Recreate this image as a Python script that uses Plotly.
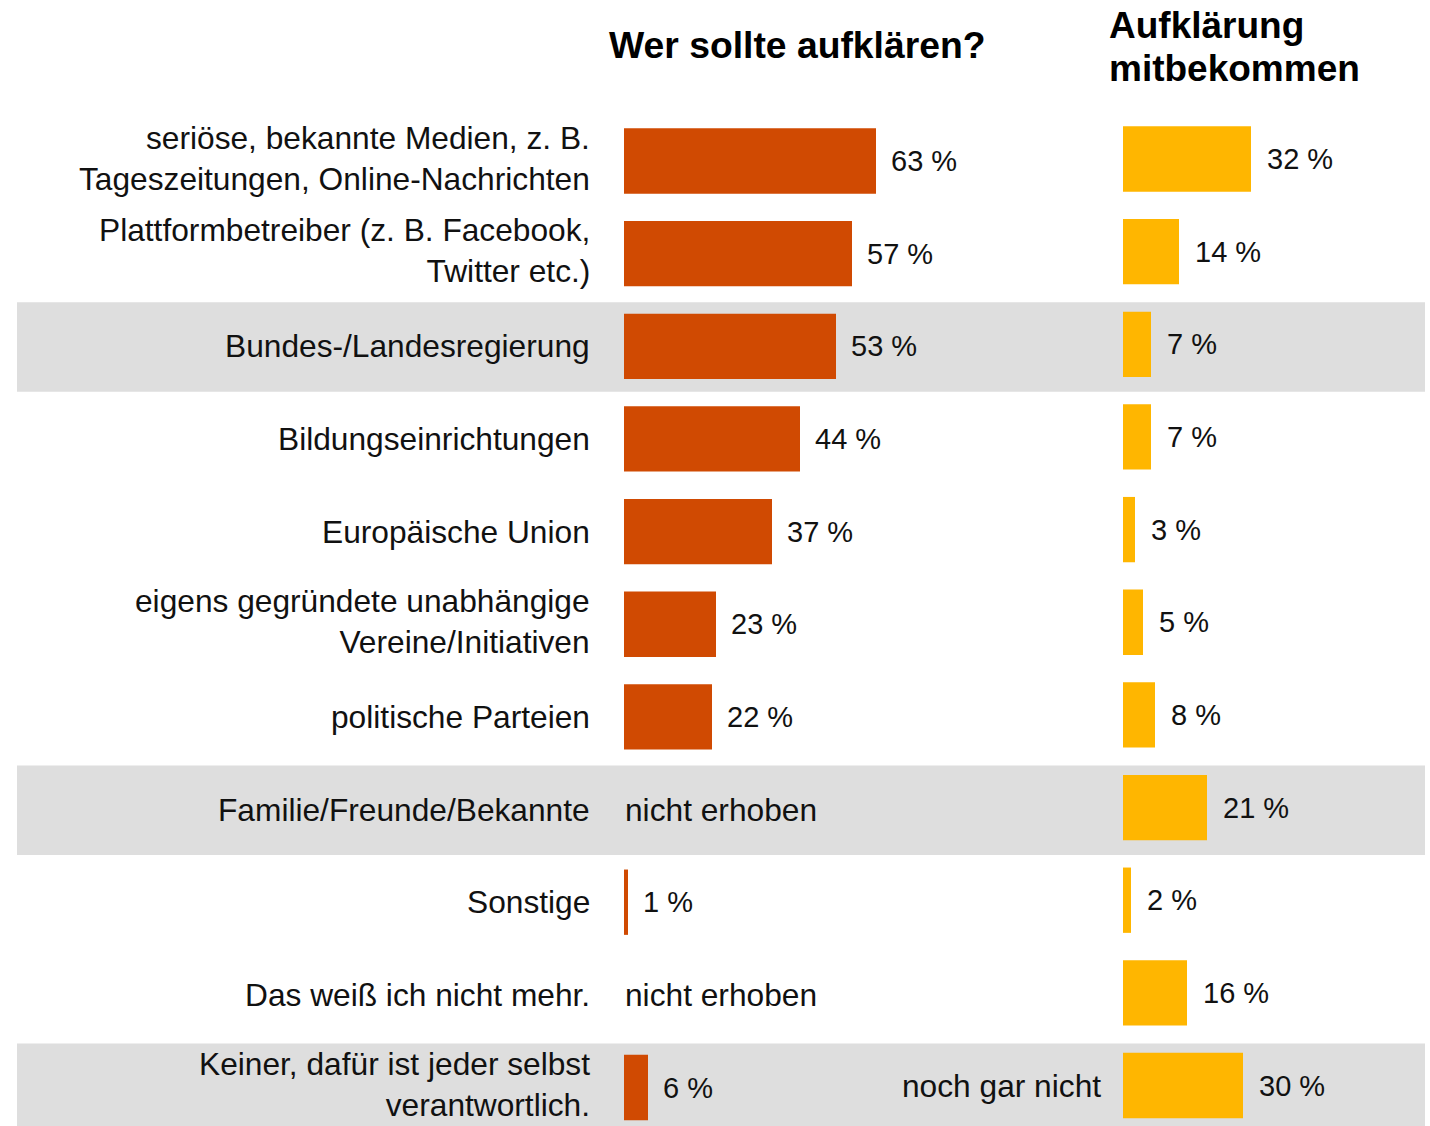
import plotly.graph_objects as go

# ---- data ----
categories = [
    "seriöse, bekannte Medien, z. B.<br>Tageszeitungen, Online-Nachrichten",
    "Plattformbetreiber (z. B. Facebook,<br>Twitter etc.)",
    "Bundes-/Landesregierung",
    "Bildungseinrichtungen",
    "Europäische Union",
    "eigens gegründete unabhängige<br>Vereine/Initiativen",
    "politische Parteien",
    "Familie/Freunde/Bekannte",
    "Sonstige",
    "Das weiß ich nicht mehr.",
    "Keiner, dafür ist jeder selbst<br>verantwortlich.",
]
who_should = [63, 57, 53, 44, 37, 23, 22, None, 1, None, 6]
received = [32, 14, 7, 7, 3, 5, 8, 21, 2, 16, 30]
highlight_rows = [2, 7, 10]
not_asked_text = "nicht erhoben"
last_right_label = "noch gar nicht"
title_left = "Wer sollte aufklären?"
title_right = ["Aufklärung", "mitbekommen"]

# ---- styling ----
W, H = 1430, 1126
FONT = "Liberation Sans, Arial, sans-serif"
RED = "#D04A02"
YEL = "#FFB600"
GRAY = "#DEDEDE"
TXT = "#111111"
ROW0, ROWSTEP = 161.0, 92.65   # pixel centre of first row, row spacing
PXPCT = 4.0                    # pixels per percent

def px2x(px):
    return px / W

def px2y(px):
    return 1 - px / H

n = len(categories)
rows = list(range(n))
yr_left = [(H - ROW0) / ROWSTEP, -ROW0 / ROWSTEP]
off = 2.0 / ROWSTEP
yr_right = [yr_left[0] + off, yr_left[1] + off]

fig = go.Figure()
fig.add_trace(go.Bar(
    x=who_should, y=rows, orientation="h", xaxis="x", yaxis="y",
    marker=dict(color=RED, line=dict(width=0)), width=0.705, hoverinfo="skip",
))
fig.add_trace(go.Bar(
    x=received, y=rows, orientation="h", xaxis="x2", yaxis="y2",
    marker=dict(color=YEL, line=dict(width=0)), width=0.705, hoverinfo="skip",
))

shapes = []
for r in highlight_rows:
    shapes.append(dict(type="rect", xref="paper", yref="y",
                       x0=px2x(17), x1=px2x(1425), y0=r - 0.475, y1=r + 0.49,
                       fillcolor=GRAY, line=dict(width=0), layer="below"))

ann = []
for i, c in enumerate(categories):
    ann.append(dict(x=px2x(592), y=i, xref="paper", yref="y", text=c,
                    xanchor="right", yanchor="middle", align="right", showarrow=False,
                    yshift=3 if "<br>" in c else 0,
                    font=dict(family=FONT, size=31.7, color=TXT)))
for i, v in enumerate(who_should):
    if v is None:
        ann.append(dict(x=0, y=i, xref="x", yref="y", text=not_asked_text,
                        xanchor="left", yanchor="middle", xshift=-1, showarrow=False,
                        font=dict(family=FONT, size=31.7, color=TXT)))
    else:
        ann.append(dict(x=v, y=i, xref="x", yref="y", text=f"{v} %",
                        xanchor="left", yanchor="middle", xshift=13, showarrow=False,
                        font=dict(family=FONT, size=29, color=TXT)))
for i, v in enumerate(received):
    ann.append(dict(x=v, y=i, xref="x2", yref="y2", text=f"{v} %",
                    xanchor="left", yanchor="middle", xshift=14, showarrow=False,
                    font=dict(family=FONT, size=29, color=TXT)))
ann.append(dict(x=0, y=n - 1, xref="x2", yref="y2", text=last_right_label,
                xanchor="right", yanchor="middle", xshift=-20, showarrow=False,
                font=dict(family=FONT, size=31.7, color=TXT)))
ann.append(dict(x=px2x(607), y=px2y(45), xref="paper", yref="paper", text=f"<b>{title_left}</b>",
                xanchor="left", yanchor="middle", showarrow=False,
                font=dict(family=FONT, size=37.3, color="#000")))
for k, t in enumerate(title_right):
    ann.append(dict(x=px2x(1107), y=px2y(25 + 43 * k), xref="paper", yref="paper", text=f"<b>{t}</b>",
                    xanchor="left", yanchor="middle", showarrow=False,
                    font=dict(family=FONT, size=37, color="#000")))

ax_common = dict(showgrid=False, zeroline=False, showticklabels=False, showline=False, ticks="", fixedrange=True)
fig.update_layout(
    width=W, height=H, margin=dict(l=0, r=0, t=0, b=0),
    paper_bgcolor="white", plot_bgcolor="rgba(0,0,0,0)",
    showlegend=False, barmode="overlay",
    xaxis=dict(domain=[px2x(624), px2x(1104)], range=[0, 120], **ax_common),
    xaxis2=dict(domain=[px2x(1123), 1], range=[0, (W - 1123) / PXPCT], anchor="y2", **ax_common),
    yaxis=dict(domain=[0, 1], range=yr_left, anchor="x", **ax_common),
    yaxis2=dict(domain=[0, 1], range=yr_right, anchor="x2", overlaying="y", **ax_common),
    shapes=shapes, annotations=ann,
)

fig.write_html("out.html", config={"displayModeBar": False},
               post_script="document.body.style.margin='0';document.body.style.overflow='hidden';")
